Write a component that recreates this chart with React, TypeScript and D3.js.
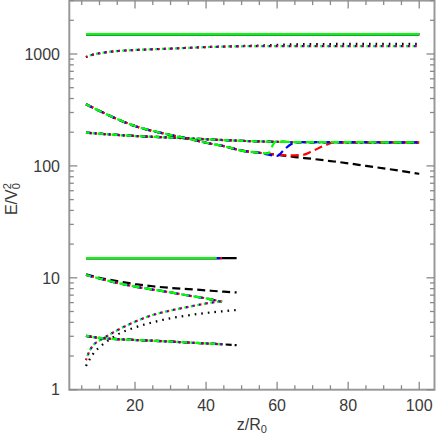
import React from 'react';
import * as d3 from 'd3';

// ---------- data ----------
const xTicks = [20, 40, 60, 80, 100];
const yTicks = [1, 10, 100, 1000];

// upper group
const upSolidZ = [6.2, 100];
const upSolidV = [1500, 1500];

const upDotZ = [6.2, 8, 10, 12, 15, 20, 25, 30, 35, 40, 45, 50, 55, 60, 70, 80, 90, 100];
const upDotColored = [940, 985, 1015, 1038, 1062, 1086, 1103, 1118, 1135, 1152, 1165, 1172, 1175, 1176, 1177, 1178, 1178, 1178];
const upDotBlack = [940, 985, 1015, 1038, 1062, 1086, 1103, 1118, 1135, 1152, 1166, 1178, 1192, 1208, 1226, 1230, 1232, 1233];

const upDashZ = [6.2, 10, 15, 20, 25, 30, 35, 40, 45, 50, 55, 60, 65, 70, 75, 80, 85, 90, 95, 100];
const upDashBlack = [355, 310, 262, 227, 205, 189, 175, 161, 150, 137, 131, 126, 120, 115.5, 110.5, 105.5, 100, 95, 90, 85];
const upDashRedZ = [6.2, 10, 15, 20, 25, 30, 35, 40, 45, 50, 55, 60, 63, 67, 70, 73.5, 76, 80, 90, 100];
const upDashRed = [355, 310, 262, 227, 205, 189, 175, 161, 150, 137, 131, 126, 124, 125, 136, 153, 162, 163, 162.5, 162];
const upDashBlueZ = [6.2, 10, 15, 20, 25, 30, 35, 40, 45, 50, 55, 60, 62, 64, 66, 70, 80, 90, 100];
const upDashBlue = [355, 310, 262, 227, 205, 189, 175, 161, 150, 137, 131, 123, 140, 157, 163, 163, 163, 162.5, 162];
const upDashGreenZ = [6.2, 10, 15, 20, 25, 30, 35, 40, 45, 50, 55, 57.5, 58.5, 59.5, 70, 80, 90, 100];
const upDashGreen = [355, 310, 262, 227, 205, 189, 175, 161, 150, 137, 131, 129, 148, 164, 163, 163, 162.5, 162];

const upDashDotZ = [6.2, 10, 15, 20, 25, 30, 35, 40, 45, 50, 55, 60, 70, 80, 90, 100];
const upDashDotV = [198, 194, 189, 185, 182, 179, 176, 173, 170, 167.5, 165.5, 164, 163, 162.5, 162, 161.5];

// lower group
const loSolidColoredZ = [6.2, 44.5];
const loSolidBlackZ = [6.2, 48.6];
const loSolidV = [15, 15];

const loDashColoredZ = [6.2, 10, 15, 20, 25, 30, 35, 40, 44.5];
const loDashColored = [10.6, 9.85, 9.0, 8.35, 7.85, 7.4, 6.95, 6.55, 6.1];
const loDashBlackZ = [6.2, 10, 15, 20, 25, 30, 35, 40, 45, 48.6];
const loDashBlack = [10.75, 10.0, 9.35, 8.8, 8.4, 8.12, 7.93, 7.72, 7.52, 7.4];

const loDotColoredZ = [6.2, 7, 8, 10, 12, 15, 20, 25, 30, 35, 40, 44.5];
const loDotColored = [1.84, 2.15, 2.45, 2.75, 3.0, 3.4, 4.05, 4.65, 5.1, 5.5, 5.9, 6.2];
const loDotBlackZ = [6.2, 8, 10, 12, 15, 20, 25, 30, 35, 40, 45, 48.6];
const loDotBlack = [1.63, 2.05, 2.4, 2.69, 3.1, 3.6, 4.0, 4.35, 4.62, 4.85, 5.03, 5.15];

const loDashDotColoredZ = [6.2, 10, 15, 20, 25, 30, 35, 40, 44.5];
const loDashDotColored = [3.03, 2.9, 2.83, 2.78, 2.74, 2.69, 2.64, 2.59, 2.55];
const loDashDotBlackZ = [6.2, 10, 15, 20, 25, 30, 35, 40, 45, 48.6];
const loDashDotBlack = [3.03, 2.9, 2.83, 2.78, 2.74, 2.69, 2.64, 2.59, 2.54, 2.5];

// ---------- layout ----------
const W = 436;
const H = 436;
const X0 = 69.3, X1 = 434.5, Y0 = 389.7, Y1 = 0.6;

const COLORS = { k: '#000000', r: '#ff0000', b: '#0000ff', g: '#00ff00' };
const STYLES: Record<string, { dash: string; offs: Record<string, number> }> = {
  solid: { dash: 'none', offs: { k: 0, r: 0, b: 0, g: 0 } },
  dash: { dash: '8,4.5', offs: { k: 0, r: 0, b: 1.5, g: 3 } },
  dot: { dash: '1.6,5', offs: { k: 0, r: 0, b: 1.3, g: 2.6 } },
  dashdot: { dash: '6,3,2,3', offs: { k: 0, r: 0, b: 1.2, g: 2.4 } },
};

type S = { z: number[]; v: number[]; c: 'k' | 'r' | 'b' | 'g'; s: string; w?: number };

const series: S[] = [
  // upper solid
  { z: upSolidZ, v: upSolidV, c: 'k', s: 'solid', w: 2.6 },
  { z: upSolidZ, v: upSolidV, c: 'r', s: 'solid', w: 2.6 },
  { z: upSolidZ, v: upSolidV, c: 'b', s: 'solid', w: 2.6 },
  { z: upSolidZ, v: upSolidV, c: 'g', s: 'solid', w: 2.6 },
  // upper dotted
  { z: upDotZ, v: upDotBlack, c: 'k', s: 'dot' },
  { z: upDotZ, v: upDotColored, c: 'r', s: 'dot' },
  { z: upDotZ, v: upDotColored, c: 'b', s: 'dot' },
  { z: upDotZ, v: upDotColored, c: 'g', s: 'dot' },
  // upper dash-dot
  { z: upDashDotZ, v: upDashDotV, c: 'k', s: 'dashdot' },
  { z: upDashDotZ, v: upDashDotV, c: 'r', s: 'dashdot' },
  { z: upDashDotZ, v: upDashDotV, c: 'b', s: 'dashdot' },
  { z: upDashDotZ, v: upDashDotV, c: 'g', s: 'dashdot' },
  // upper dashed
  { z: upDashZ, v: upDashBlack, c: 'k', s: 'dash' },
  { z: upDashRedZ, v: upDashRed, c: 'r', s: 'dash' },
  { z: upDashBlueZ, v: upDashBlue, c: 'b', s: 'dash' },
  { z: upDashGreenZ, v: upDashGreen, c: 'g', s: 'dash' },
  // lower solid
  { z: loSolidBlackZ, v: loSolidV, c: 'k', s: 'solid', w: 2.4 },
  { z: loSolidColoredZ, v: loSolidV, c: 'r', s: 'solid', w: 2.4 },
  { z: [6.2, 44], v: loSolidV, c: 'b', s: 'solid', w: 2.4 },
  { z: [6.2, 43], v: loSolidV, c: 'g', s: 'solid', w: 2.4 },
  // lower dashed
  { z: loDashBlackZ, v: loDashBlack, c: 'k', s: 'dash' },
  { z: loDashColoredZ, v: loDashColored, c: 'r', s: 'dash' },
  { z: loDashColoredZ, v: loDashColored, c: 'b', s: 'dash' },
  { z: loDashColoredZ, v: loDashColored, c: 'g', s: 'dash' },
  // lower dotted
  { z: loDotBlackZ, v: loDotBlack, c: 'k', s: 'dot' },
  { z: loDotColoredZ, v: loDotColored, c: 'r', s: 'dot' },
  { z: loDotColoredZ, v: loDotColored, c: 'b', s: 'dot' },
  { z: loDotColoredZ, v: loDotColored, c: 'g', s: 'dot' },
  // lower dash-dot
  { z: loDashDotBlackZ, v: loDashDotBlack, c: 'k', s: 'dashdot' },
  { z: loDashDotColoredZ, v: loDashDotColored, c: 'r', s: 'dashdot' },
  { z: loDashDotColoredZ, v: loDashDotColored, c: 'b', s: 'dashdot' },
  { z: loDashDotColoredZ, v: loDashDotColored, c: 'g', s: 'dashdot' },
];

export default function App() {
  const x = d3.scaleLinear().domain([1.5, 104.3]).range([X0, X1]);
  const y = d3.scaleLog().domain([1, 3000]).range([Y0, Y1]);

  const line = d3
    .line<[number, number]>()
    .x((d) => x(d[0]))
    .y((d) => y(d[1]))
    .curve(d3.curveMonotoneX);

  const xMinor = d3.range(5, 101, 5).filter((t) => t % 20 !== 0);
  const yMinor: number[] = [];
  for (const dec of [1, 10, 100, 1000]) {
    for (let k = 2; k <= 9; k++) {
      const v = dec * k;
      if (v <= 3000) yMinor.push(v);
    }
  }

  const axisColor = '#999999';
  const tickColor = '#8a8a8a';
  const font = "'Liberation Sans', Arial, Helvetica, sans-serif";
  const MAJ = 8;
  const MIN = 4.5;

  return (
    <svg
      width={W}
      height={H}
      style={{ position: 'absolute', left: 0, top: 0, background: '#fff' }}
    >
      <rect x={0} y={0} width={W} height={H} fill="#fff" />
      {/* data */}
      <g fill="none">
        {series.map((s, i) => {
          const st = STYLES[s.s];
          const pts: [number, number][] = s.z.map((z, j) => [z, s.v[j]]);
          return (
            <path
              key={i}
              d={line(pts) || ''}
              stroke={COLORS[s.c]}
              strokeWidth={s.w ?? 2.2}
              strokeDasharray={st.dash}
              strokeDashoffset={st.offs[s.c]}
            />
          );
        })}
      </g>
      {/* frame */}
      <rect
        x={X0}
        y={Y1}
        width={X1 - X0}
        height={Y0 - Y1}
        fill="none"
        stroke={axisColor}
        strokeWidth={2}
      />
      {/* ticks */}
      <g stroke={tickColor} strokeWidth={1.3}>
        {xTicks.map((t) => (
          <g key={'xt' + t}>
            <line x1={x(t)} x2={x(t)} y1={Y0} y2={Y0 - MAJ} />
            <line x1={x(t)} x2={x(t)} y1={Y1} y2={Y1 + MAJ} />
          </g>
        ))}
        {xMinor.map((t) => (
          <g key={'xm' + t}>
            <line x1={x(t)} x2={x(t)} y1={Y0} y2={Y0 - MIN} />
            <line x1={x(t)} x2={x(t)} y1={Y1} y2={Y1 + MIN} />
          </g>
        ))}
        {yTicks.map((t) => (
          <g key={'yt' + t}>
            <line x1={X0} x2={X0 + MAJ} y1={y(t)} y2={y(t)} />
            <line x1={X1} x2={X1 - MAJ} y1={y(t)} y2={y(t)} />
          </g>
        ))}
        {yMinor.map((t) => (
          <g key={'ym' + t}>
            <line x1={X0} x2={X0 + MIN} y1={y(t)} y2={y(t)} />
            <line x1={X1} x2={X1 - MIN} y1={y(t)} y2={y(t)} />
          </g>
        ))}
      </g>
      {/* tick labels */}
      <g fontFamily={font} fontSize={16} fill="#3a3a3a">
        {xTicks.map((t) => (
          <text key={'xl' + t} x={x(t)} y={411} textAnchor="middle">
            {t}
          </text>
        ))}
        {yTicks.map((t) => (
          <text key={'yl' + t} x={60} y={y(t)} dy="0.36em" textAnchor="end">
            {t}
          </text>
        ))}
      </g>
      {/* axis titles */}
      <text
        x={(X0 + X1) / 2}
        y={430}
        textAnchor="middle"
        fontFamily={font}
        fontSize={16}
        fill="#3a3a3a"
      >
        z/R
        <tspan fontSize={11} dy={3}>
          0
        </tspan>
      </text>
      <text
        transform={`translate(17, ${(Y0 + Y1) / 2 + 4}) rotate(-90)`}
        textAnchor="middle"
        fontFamily={font}
        fontSize={16}
        fill="#3a3a3a"
      >
        E/V
        <tspan fontSize={11} dy={-6}>
          2
        </tspan>
        <tspan fontSize={11} dx={-6.1} dy={9}>
          0
        </tspan>
      </text>
    </svg>
  );
}
